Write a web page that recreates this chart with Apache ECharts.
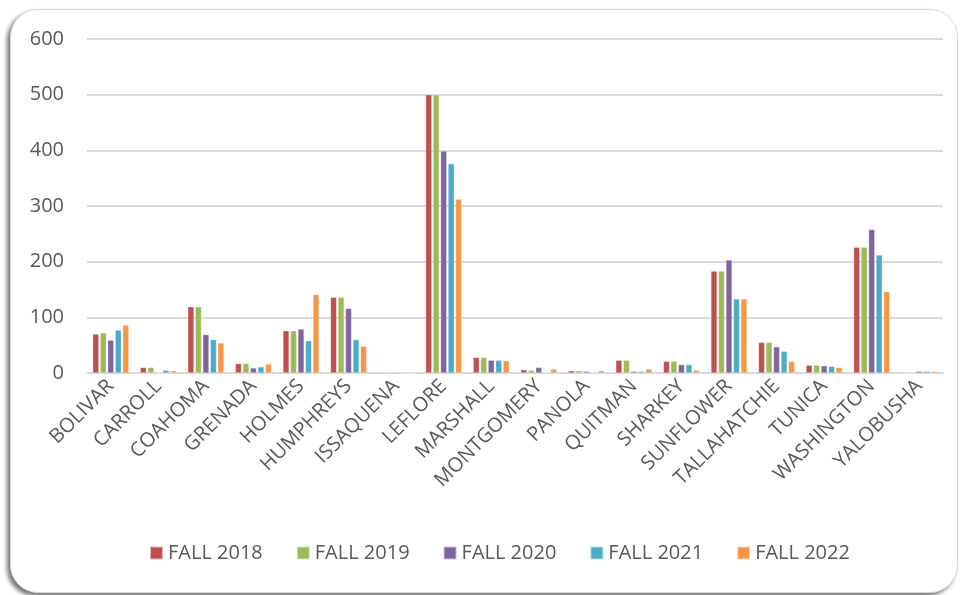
<!DOCTYPE html>
<html>
<head>
<meta charset="utf-8">
<script src="https://cdn.jsdelivr.net/npm/echarts@6/dist/echarts.min.js"></script>
<style>
  html, body { margin: 0; padding: 0; background: #fff; }
  #frame {
    position: absolute; left: 10px; top: 9px; width: 946px; height: 582px;
    border: 1px solid #d9d9d9; border-radius: 28px; background: #fff;
    box-shadow: -3px 3px 4px rgba(0,0,0,0.55);
  }
  #main { position: absolute; left: 0; top: 0; width: 964px; height: 595px; }
</style>
</head>
<body>
<div id="frame"></div>
<div id="main"></div>
<script>
const counties = ["BOLIVAR", "CARROLL", "COAHOMA", "GRENADA", "HOLMES", "HUMPHREYS", "ISSAQUENA", "LEFLORE", "MARSHALL",
  "MONTGOMERY", "PANOLA", "QUITMAN", "SHARKEY", "SUNFLOWER", "TALLAHATCHIE", "TUNICA", "WASHINGTON", "YALOBUSHA"];
const fall2018 = [70, 10, 119, 17, 76, 136, 1, 500, 28, 6, 4, 23, 21, 183, 55, 14, 226, 0];
const fall2019 = [72, 10, 119, 17, 76, 136, 1, 500, 28, 5, 4, 23, 21, 183, 55, 14, 226, 0];
const fall2020 = [59, 1, 69, 9, 79, 116, 1, 399, 23, 10, 3, 3, 15, 203, 47, 13, 258, 3];
const fall2021 = [77, 5, 60, 11, 58, 60, 0, 376, 23, 1, 1, 3, 15, 133, 39, 12, 212, 3];
const fall2022 = [86, 4, 54, 16, 141, 48, 0, 312, 22, 7, 4, 7, 5, 133, 21, 10, 146, 3];
const seriesNames = ["FALL 2018", "FALL 2019", "FALL 2020", "FALL 2021", "FALL 2022"];
const colors = ["#C0504D", "#9BBB59", "#8064A2", "#4BACC6", "#F79646"];
const yTicks = [0, 100, 200, 300, 400, 500, 600];

const chart = echarts.init(document.getElementById("main"));
const allData = [fall2018, fall2019, fall2020, fall2021, fall2022];
const font = "'Open Sans', 'DejaVu Sans', sans-serif";

const option = {
  animation: false,
  color: colors,
  grid: { left: 87, right: 21, top: 39, bottom: 222 },
  legend: {
    bottom: 27,
    left: 144,
    itemWidth: 13,
    itemHeight: 13,
    itemGap: 33,
    icon: "rect",
    textStyle: { fontFamily: font, fontSize: 20, color: "#595959" },
    data: seriesNames
  },
  xAxis: {
    type: "category",
    data: counties,
    axisLine: { show: true, lineStyle: { color: "#d9d9d9", width: 2 } },
    axisTick: { show: false },
    axisLabel: {
      interval: 0,
      rotate: 45,
      margin: 10,
      fontFamily: font,
      fontSize: 20,
      color: "#595959"
    }
  },
  yAxis: {
    type: "value",
    min: yTicks[0],
    max: yTicks[yTicks.length - 1],
    interval: 100,
    axisLine: { show: false },
    axisTick: { show: false },
    splitLine: { lineStyle: { color: "#d9d9d9", width: 2 } },
    axisLabel: { fontFamily: font, fontSize: 20, color: "#595959", margin: 23 }
  },
  series: seriesNames.map((name, i) => ({
    name: name,
    type: "bar",
    data: allData[i],
    barGap: "22%",
    barCategoryGap: "24%",
    itemStyle: { borderColor: "rgba(255,255,255,0.6)", borderWidth: 0.5 }
  }))
};
chart.setOption(option);
</script>
</body>
</html>
